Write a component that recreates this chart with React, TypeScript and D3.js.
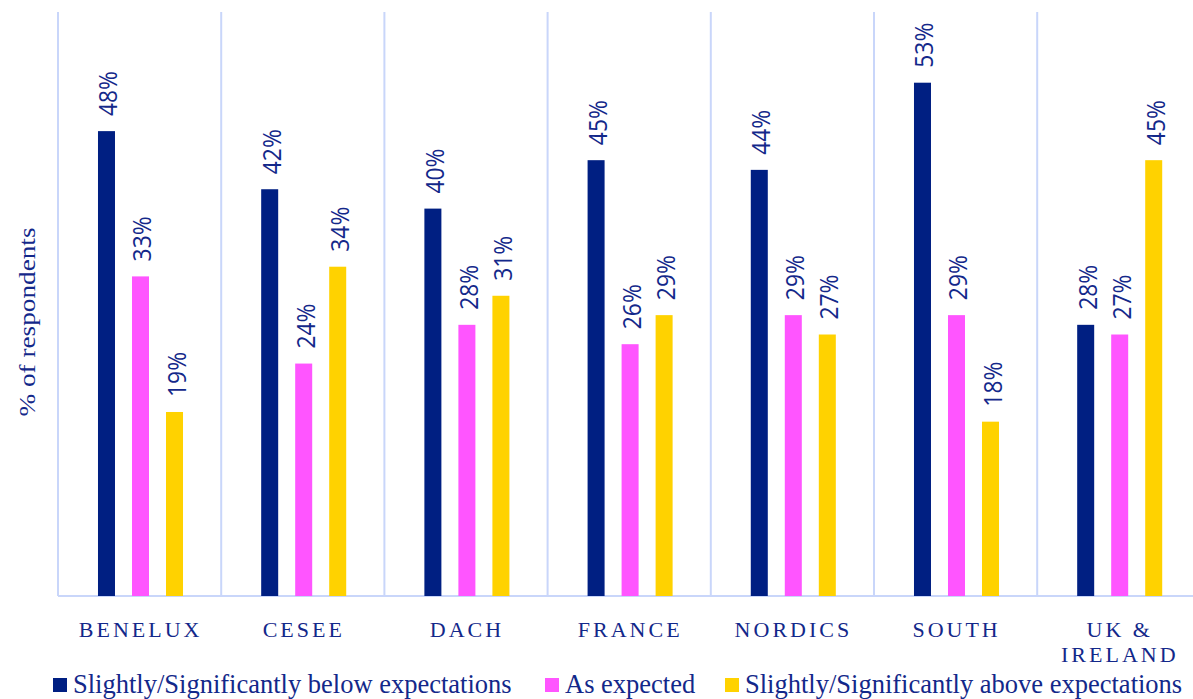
import React from "react";
import * as d3 from "d3";

const categories = ["BENELUX", "CESEE", "DACH", "FRANCE", "NORDICS", "SOUTH", "UK & IRELAND"];
const categoryLines: string[][] = [["BENELUX"], ["CESEE"], ["DACH"], ["FRANCE"], ["NORDICS"], ["SOUTH"], ["UK &", "IRELAND"]];
const seriesNames = [
  "Slightly/Significantly below expectations",
  "As expected",
  "Slightly/Significantly above expectations",
];
const below = [0.48, 0.42, 0.40, 0.45, 0.44, 0.53, 0.28];
const asExpected = [0.33, 0.24, 0.28, 0.26, 0.29, 0.29, 0.27];
const above = [0.19, 0.34, 0.31, 0.29, 0.27, 0.18, 0.45];
const seriesValues = [below, asExpected, above];
const colors = ["#001F82", "#FF55FF", "#FFD200"];

const W = 1193;
const H = 699;
const left = 58;
const catW = 163.2;
const top = 12;
const baseY = 596;
const textColor = "#13288A";
const gridColor = "#C9D6FA";

export default function App() {
  const x = d3
    .scaleBand<string>()
    .domain(categories)
    .range([left, left + catW * categories.length])
    .padding(0);
  const inner = d3
    .scaleBand<string>()
    .domain(seriesNames)
    .range([catW * 0.245, catW * 0.766])
    .paddingInner(0.5)
    .paddingOuter(0);
  const y = d3.scaleLinear().domain([0, 0.603]).range([baseY, top]);
  const fmt = d3.format(".0%");

  const legendItems = [
    { x: 53, tx: 73 },
    { x: 545, tx: 565 },
    { x: 725, tx: 745 },
  ];

  return (
    <svg
      width={W}
      height={H}
      style={{ position: "absolute", left: 0, top: 0, background: "#fff" }}
    >
      {d3.range(categories.length + 1).map((i) => (
        <line
          key={"g" + i}
          x1={left + i * catW}
          x2={left + i * catW}
          y1={top}
          y2={baseY}
          stroke={gridColor}
          strokeWidth={2}
        />
      ))}
      <line x1={left} x2={W} y1={baseY} y2={baseY} stroke={gridColor} strokeWidth={2} />

      {categories.map((c, ci) =>
        seriesNames.map((s, si) => {
          const v = seriesValues[si][ci];
          const bx = (x(c) as number) + (inner(s) as number);
          const bw = inner.bandwidth();
          const by = y(v);
          return (
            <g key={c + s}>
              <rect x={bx} y={by} width={bw} height={baseY - by} fill={colors[si]} />
              <text
                transform={`translate(${bx + bw / 2 + 11},${by - 15}) rotate(-90)`}
                fontFamily="'Open Sans', 'Noto Sans', sans-serif"
                fontSize={26}
                fill={textColor}
                textLength={45}
                lengthAdjust="spacingAndGlyphs"
              >
                {fmt(v)}
              </text>
            </g>
          );
        })
      )}

      {categories.map((c, ci) => (
        <text
          key={"l" + c}
          x={(x(c) as number) + catW / 2 + 1}
          y={637}
          textAnchor="middle"
          fontFamily="'Liberation Serif', 'Times New Roman', serif"
          fontSize={22}
          letterSpacing={3}
          fill={textColor}
        >
          {categoryLines[ci].map((ln, li) => (
            <tspan key={li} x={(x(c) as number) + catW / 2 + 1} dy={li === 0 ? 0 : 25}>
              {ln}
            </tspan>
          ))}
        </text>
      ))}

      <text
        transform={`translate(35,322) rotate(-90)`}
        textAnchor="middle"
        fontFamily="'Liberation Serif', 'Times New Roman', serif"
        fontSize={24}
        fill={textColor}
        textLength={189}
        lengthAdjust="spacingAndGlyphs"
      >
        % of respondents
      </text>

      {seriesNames.map((s, si) => (
        <g key={"lg" + s}>
          <rect x={legendItems[si].x} y={678} width={14} height={14} fill={colors[si]} />
          <text
            x={legendItems[si].tx}
            y={693}
            fontFamily="'Liberation Serif', 'Times New Roman', serif"
            fontSize={26.5}
            fill={textColor}
          >
            {s}
          </text>
        </g>
      ))}
    </svg>
  );
}
